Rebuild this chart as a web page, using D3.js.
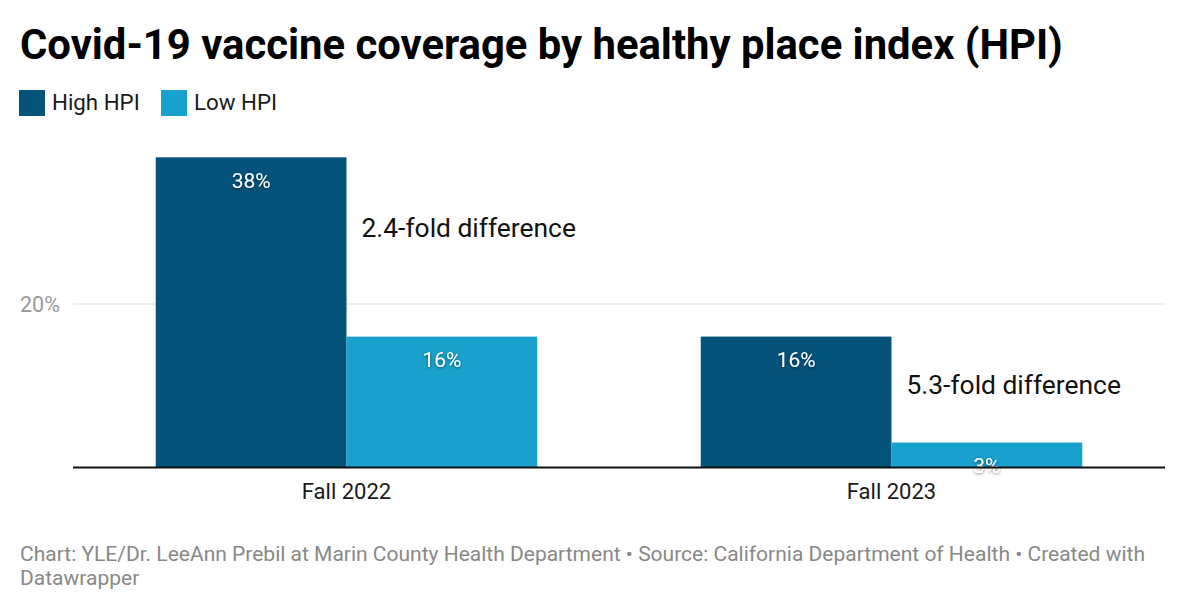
<!DOCTYPE html>
<html>
<head>
<meta charset="utf-8">
<script src="https://cdn.jsdelivr.net/npm/d3@7"></script>
<style>
  body { margin: 0; background: #fff; }
  svg { font-family: Roboto, sans-serif; }
</style>
</head>
<body>
<script>
const periods = ["Fall 2022", "Fall 2023"];
const seriesNames = ["High HPI", "Low HPI"];
const highHPI = [38, 16];
const lowHPI = [16, 3];
const annotations = ["2.4-fold difference", "5.3-fold difference"];
const annotationLevel = [28.2, 9.0];
const yTicks = [20];
const colours = ["#03537a", "#19a1cd"];

const width = 1184;
const height = 611;

const svg = d3.select("body")
    .append("svg")
    .attr("width", width)
    .attr("height", height);

const defs = svg.append("defs");
defs.append("filter")
    .attr("id", "shadow")
    .attr("x", "-20%").attr("y", "-30%")
    .attr("width", "140%").attr("height", "160%")
    .append("feDropShadow")
    .attr("dx", 0).attr("dy", 1)
    .attr("stdDeviation", 1.5)
    .attr("flood-color", "#000")
    .attr("flood-opacity", 0.55);

// title
svg.append("text")
    .attr("x", 20)
    .attr("y", 59)
    .attr("font-size", 41.8)
    .attr("font-weight", 700)
    .attr("fill", "#000")
    .text("Covid-19 vaccine coverage by healthy place index (HPI)");

// legend
const legendX = [19, 161];
const legend = svg.append("g").attr("id", "legend");
seriesNames.forEach((name, i) => {
    legend.append("rect")
        .attr("x", legendX[i])
        .attr("y", 90)
        .attr("width", 26)
        .attr("height", 26)
        .attr("fill", colours[i]);
    legend.append("text")
        .attr("x", legendX[i] + 33)
        .attr("y", 109.5)
        .attr("font-size", 22.3)
        .attr("fill", "#1a1a1a")
        .text(name);
});

// scales
const x0 = d3.scaleBand()
    .domain(periods)
    .range([74, 1164])
    .paddingInner(0.3)
    .paddingOuter(0.15);
const x1 = d3.scaleBand()
    .domain(seriesNames)
    .range([0, x0.bandwidth()]);
const y = d3.scaleLinear()
    .domain([0, 40])
    .range([467, 141]);

// grid
svg.append("g")
    .selectAll("line")
    .data(yTicks)
    .join("line")
    .attr("x1", 73)
    .attr("x2", 1165)
    .attr("y1", d => y(d))
    .attr("y2", d => y(d))
    .attr("stroke", "#e0e0e0")
    .attr("stroke-width", 1);
svg.append("g")
    .selectAll("text")
    .data(yTicks)
    .join("text")
    .attr("x", 20)
    .attr("y", d => y(d) + 7.5)
    .attr("font-size", 21.5)
    .attr("fill", "#999")
    .text(d => d + "%");

// bars
const rows = periods.map((p, i) => ({ period: p, values: [highHPI[i], lowHPI[i]] }));
const groups = svg.append("g")
    .selectAll("g")
    .data(rows)
    .join("g")
    .attr("transform", d => `translate(${x0(d.period)},0)`);

groups.selectAll("rect")
    .data(d => d.values.map((v, j) => ({ key: seriesNames[j], value: v, i: j })))
    .join("rect")
    .attr("x", d => x1(d.key))
    .attr("y", d => y(d.value))
    .attr("width", x1.bandwidth())
    .attr("height", d => y(0) - y(d.value))
    .attr("fill", d => colours[d.i]);

// axis line
svg.append("line")
    .attr("x1", 73)
    .attr("x2", 1165)
    .attr("y1", y(0) + 0.5)
    .attr("y2", y(0) + 0.5)
    .attr("stroke", "#111")
    .attr("stroke-width", 2);

// value labels
groups.selectAll("text.value")
    .data(d => d.values.map((v, j) => ({ key: seriesNames[j], value: v })))
    .join("text")
    .attr("class", "value")
    .attr("x", d => x1(d.key) + x1.bandwidth() / 2)
    .attr("y", d => y(d.value) + 30.5)
    .attr("text-anchor", "middle")
    .attr("font-size", 21)
    .attr("fill", "#fff")
    .attr("filter", "url(#shadow)")
    .text(d => d.value + "%");

// annotations
groups.append("text")
    .attr("x", x1("Low HPI") + 15)
    .attr("y", (d, i) => y(annotationLevel[i]))
    .attr("font-size", 26.4)
    .attr("fill", "#111")
    .text((d, i) => annotations[i]);

// x axis labels
const xAxis = d3.axisBottom(x0).tickSize(0).tickPadding(0);
svg.append("g")
    .attr("transform", `translate(0,${y(0)})`)
    .call(xAxis)
    .call(g => g.select(".domain").remove())
    .selectAll("text")
    .attr("dy", null)
    .attr("y", 32)
    .attr("font-family", "Roboto, sans-serif")
    .attr("font-size", 22)
    .attr("fill", "#1a1a1a");

// footer
const footer = [
    "Chart: YLE/Dr. LeeAnn Prebil at Marin County Health Department • Source: California Department of Health • Created with",
    "Datawrapper"
];
svg.append("g")
    .selectAll("text")
    .data(footer)
    .join("text")
    .attr("x", 20)
    .attr("y", (d, i) => 561 + i * 24)
    .attr("font-size", 21)
    .attr("fill", "#888")
    .text(d => d);
</script>
</body>
</html>
